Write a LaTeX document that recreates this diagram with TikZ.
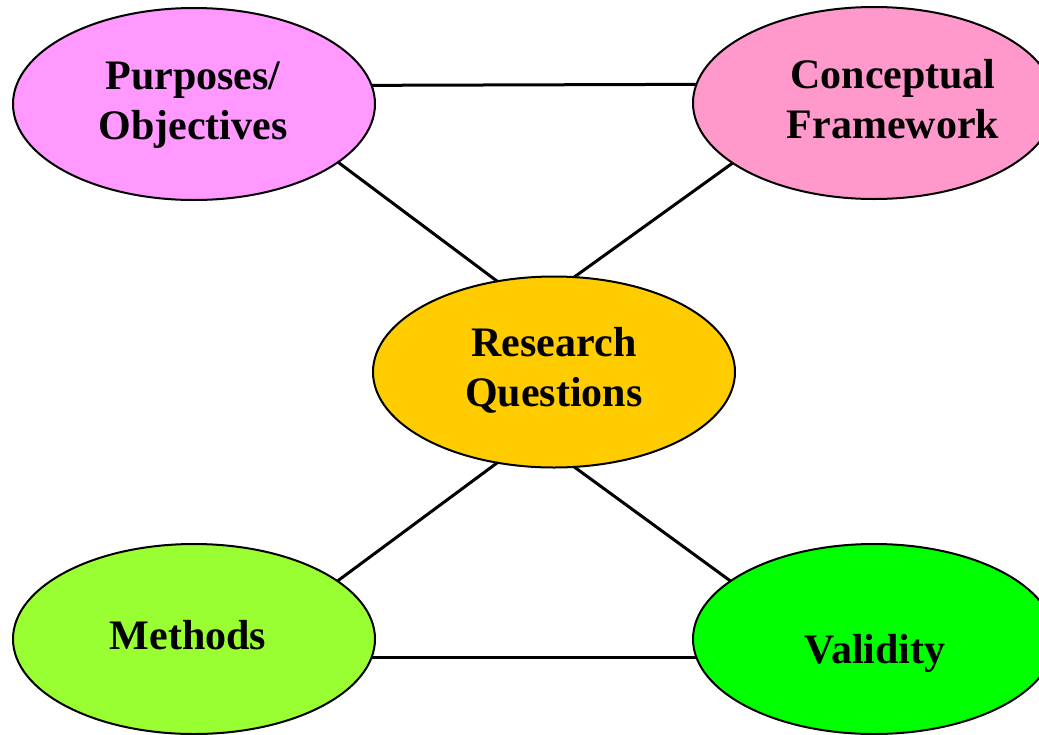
\documentclass[tikz,border=0pt]{standalone}
\usepackage{fontspec}
\setmainfont{Liberation Serif}
\usetikzlibrary{shapes.geometric}
\definecolor{ppurp}{HTML}{FF99FF}
\definecolor{pconc}{HTML}{FF99CC}
\definecolor{presq}{HTML}{FFCC00}
\definecolor{pmeth}{HTML}{99FF33}
\definecolor{pvali}{HTML}{00FF00}
\begin{document}
\begin{tikzpicture}[x=0.5pt,y=-0.5pt,
  bubble/.style={ellipse, draw=black, line width=1pt, minimum width=181pt, minimum height=96pt, inner sep=0pt, outer sep=0pt},
  lbl/.style={font=\fontsize{21}{25}\selectfont\bfseries, align=center, inner sep=0pt},
  link/.style={line width=1.5pt}]
\useasboundingbox (0,0) rectangle (1039,734);
\clip (0,0) rectangle (1039,734);
\node[bubble, fill=ppurp] (P) at (194,104) {};
\node[bubble, fill=pconc] (C) at (874,103) {};
\node[bubble, fill=presq, minimum height=95.5pt] (R) at (554,372) {};
\node[bubble, fill=pmeth, minimum height=95pt] (M) at (194,639) {};
\node[bubble, fill=pvali, minimum height=95pt] (V) at (874,639) {};
\node[lbl] (Pt) at (193,105) {Purposes/\\Objectives};
\node[lbl] (Ct) at (893,99) {Conceptual\\Framework};
\node[lbl] (Rt) at (554,370) {Research\\Questions};
\node[lbl] (Mt) at (188,635) {Methods};
\node[lbl] (Vt) at (875,653) {Validity};
\draw[link] (P.6) -- (C.174);
\draw[link] (P.-22) -- (R.122);
\draw[link] (C.-157) -- (R.78);
\draw[link] (R.-122) -- (M.22);
\draw[link] (R.-78) -- (V.158);
\draw[link] (M.-6) -- (V.-174);
\end{tikzpicture}
\end{document}
